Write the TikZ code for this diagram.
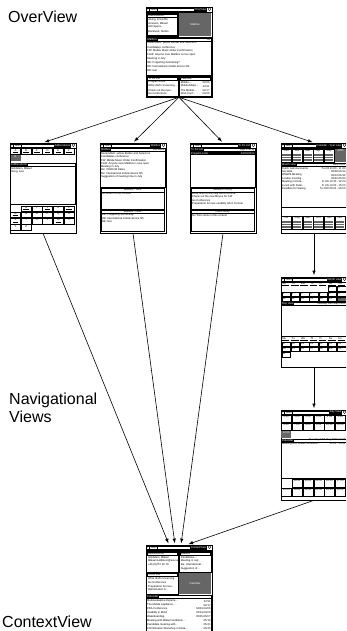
\documentclass[tikz,border=0pt]{standalone}
\usepackage{fontspec}
\setmainfont{Liberation Sans}
\usetikzlibrary{arrows, positioning, calc}

\tikzset{
  shot/.style={draw, line width=0.6pt, fill=white, minimum width=66pt, minimum height=90pt, inner sep=0pt},
  ui/.style={draw, line width=0.3pt},
  tiny/.style={font=\fontsize{2.7}{3}\selectfont, inner sep=0pt, anchor=west},
  tinyr/.style={tiny, anchor=east},
  tinyc/.style={tiny, anchor=center},
  blk/.style={tiny, fill=black, text=white, inner xsep=0.7pt, minimum height=3pt},
  grey/.style={fill=black!60},
  biglabel/.style={font=\fontsize{16}{17.5}\selectfont, align=left, inner sep=0pt, anchor=north west},
  link/.style={->, >=latex, line width=0.6pt, shorten >=1.5pt},
}

% top bar of a screen: prefix, title
\newcommand{\pdabar}[2]{%
  \draw[ui] (0,5) -- (66,5);
  \draw[ui] (0.8,1) rectangle (3.2,4);
  \node[tinyc] (#1-help) at (2,2.5) {?};
  \draw[ui] (3.8,1) rectangle (11.5,4);
  \node[tiny] (#1-start) at (5,2.5) {Start};
  \draw[ui] (11.5,1) -- (61.5,1) (11.5,4) -- (61.5,4);
  \node[blk, anchor=east] (#1-title) at (61.5,2.5) {#2};
  \draw[ui] (63.8,2.5) circle (1.5pt);
}
% column of text lines: prefix, x, first y, step, items
\newcommand{\pdalines}[5]{%
  \foreach \txt [count=\i] in {#5}
    \node[tiny] (#1-\i) at (#2,{#3+#4*(\i-1)}) {\txt};
}
\newcommand{\pdadates}[5]{%
  \foreach \txt [count=\i] in {#5}
    \node[tinyr] (#1-\i) at (#2,{#3+#4*(\i-1)}) {\txt};
}
% small month box of the year view: name, x, y, month
\newcommand{\minimonth}[4]{%
  \draw[ui] ({#2},{#3}) rectangle ({#2+9.8},{#3+13});
  \node[tinyc] (#1) at ({#2+4.9},{#3+2}) {#4};
  \foreach \row in {0,...,4}
    \draw[line width=0.2pt, black!60] ({#2+0.8},{#3+5+1.7*\row}) -- ({#2+9},{#3+5+1.7*\row});
}

\begin{document}
\begin{tikzpicture}[x=1pt, y=-1pt]
\useasboundingbox (0,0) rectangle (346,631);
\clip (0,0) rectangle (346,631);

% labels
\node[biglabel] (lblover) at (8,11) {OverView};
\node[biglabel] (lblnav) at (9,393) {Navigational\\Views};
\node[biglabel] (lblctx) at (2,616) {ContextView};

% screens
\node[shot] (ovw) at (179,52) {};
\node[shot] (adr) at (43,188) {};
\node[shot] (mbx) at (133,188) {};
\node[shot] (tdo) at (223,188) {};
\node[shot] (yr) at (314,188) {};
\node[shot] (mon) at (314,322) {};
\node[shot] (day) at (314,455) {};
\node[shot] (ctx) at (179,590) {};

% overview screen
\begin{scope}[shift={(ovw.north west)}]
  \pdabar{ov}{OverView}
  \draw[ui] (1,6.5) rectangle (32,29.5);
  \draw[ui] (1.6,7.1) rectangle (31.4,10.3);
  \node[tiny] (ov-adr) at (2.4,8.7) {Addressbook};
  \draw[ui] (1.6,10.3) rectangle (31.4,28.9);
  \pdalines{ov-a}{2.4}{12.8}{3.9}{{Alving, Kristoffer},{Arnesen, Mikael},Asli Sparre,{Backlund, Stefan}}
  \fill[grey] (33.5,6.5) rectangle (65,29.5);
  \node[tinyc, text=white] (ov-mbtn) at (49.25,18) {Mailbox};
  \draw[ui] (0.6,30.5) rectangle (65.4,68);
  \draw[ui] (1,31) rectangle (65,34.2);
  \node[blk, anchor=west] (ov-mail) at (1,32.6) {Mailbox};
  \node[tinyr] (ov-all) at (64.5,32.6) {All};
  \pdalines{ov-m}{1.5}{36.5}{3.9}{Bookm/Bell: yellow Border and Selectors,Candidates conference,FW: Mobile Music Order Confirmation,Field: Anyone sure Mailbox is now open,Meeting in July,RE: Forgetting Something?,RE: International mobile device 5th,RE: test}
  \draw[ui] (1,69.5) rectangle (32,89.3);
  \draw[ui] (1.6,70.1) rectangle (31.4,73.3);
  \node[tiny] (ov-todo) at (2.4,71.7) {To Do List};
  \pdalines{ov-t}{2.4}{75.6}{3.9}{Program Lotte,Write draft concerning\ldots,Check out the new\ldots,Go Conference}
  \draw[ui] (33.5,69.5) rectangle (65,89.3);
  \draw[ui] (34.1,70.1) rectangle (64.4,73.3);
  \node[tiny] (ov-cal) at (34.9,71.7) {Calendar};
  \pdalines{ov-c}{34.9}{75.6}{3.9}{Mobile\ldots,MobileAdapt\ldots,The Mobile\ldots,PDA Conf\ldots}
  \pdadates{ov-d}{64}{75.6}{3.9}{02/06,02/11,02/17,04/06}
\end{scope}

% addressbook screen
\begin{scope}[shift={(adr.north west)}]
  \pdabar{ad}{Addressbook}
  \foreach \ltr [count=\i] in {A,B,C,D,E,F} {
    \draw[ui] ({0.8+10.7*(\i-1)},5.8) rectangle ++(10,5.2);
    \node[tinyc] (ad-tab\i) at ({5.8+10.7*(\i-1)},7.4) {\ltr};
    \draw[line width=0.6pt] ({3+10.7*(\i-1)},9.8) -- ++(5.6,0);
  }
  \fill[grey] (0.8,12.5) rectangle (10.8,18);
  \node[tinyc, text=white] (ad-g) at (5.8,14.2) {G};
  \draw[ui] (0.6,20.5) rectangle (65.4,23.6);
  \node[blk, anchor=west] (ad-head) at (0.6,22) {Addressbook};
  \draw[ui] (0.6,23.6) rectangle (65.4,61);
  \pdalines{ad-l}{1.2}{26}{3.3}{{Goldstein, Mikael},{Hong, Lise}}
  \foreach \ltr [count=\i from 1, evaluate=\i as \col using {int(mod(\i,6))}, evaluate=\i as \row using {int(\i/6)}] in {H,I,J,K,L,M,N,O,P,Q,R,S,T,U,V,W,X,Y,Z} {
    \draw[ui] ({0.8+10.7*\col},{63+6.3*\row}) rectangle ++(10,5.6);
    \node[tinyc] (ad-key\i) at ({5.8+10.7*\col},{64.7+6.3*\row}) {\ltr};
  }
  \foreach \p [evaluate=\p as \col using {int(mod(\p,6))}, evaluate=\p as \row using {int(\p/6)}] in {1,3,5,6,12,16}
    \draw[line width=0.8pt] ({3+10.7*\col},{66.8+6.3*\row}) -- ++(5.6,0);
\end{scope}

% mailbox screen
\begin{scope}[shift={(mbx.north west)}]
  \pdabar{mb}{Mailbox}
  \draw[ui] (0.6,5.6) rectangle (65.4,8.8);
  \node[blk, anchor=west] (mb-head) at (0.6,7.2) {Mailbox};
  \node[tinyr] (mb-recv) at (65,7.2) {Received};
  \draw[ui] (0.6,8.8) rectangle (65.4,44);
  \pdalines{mb-l}{1.2}{10.8}{3.3}{Bookm/Bell: yellow Border and Selectors,Candidates conference,FW: Mobile Music Order Confirmation,Field: Anyone sure Mailbox is now open,Meeting in July,Re: CDWorld Dates,Re: International mobile device 5th,Suggestion of meeting time in July}
  \draw[ui] (1.5,45.5) rectangle (64.5,66);
  \node[tinyc] (mb-sent) at (33,47.3) {Mailbox - Sent};
  \draw[ui] (1.5,49) -- (64.5,49);
  \node[tiny] (mb-none) at (2.2,51) {No letters in this context};
  \draw[ui] (1.5,67) rectangle (64.5,88.5);
  \node[tinyc] (mb-draft) at (33,68.8) {Mailbox - Draft};
  \draw[ui] (1.5,70.5) -- (64.5,70.5);
  \pdalines{mb-d}{2.2}{72.5}{3.3}{RE: Forgetting Something?,RE: International mobile device 5th,RE: test}
\end{scope}

% to do screen
\begin{scope}[shift={(tdo.north west)}]
  \pdabar{td}{To Do List}
  \draw[ui] (0.6,5.6) rectangle (65.4,8.8);
  \node[blk, anchor=west] (td-head) at (0.6,7.2) {To Do List};
  \node[tinyr] (td-high) at (65,7.2) {High Priority};
  \fill (0.6,9.2) rectangle (65.4,12.2);
  \node[tiny, text=white] (td-sel) at (1.2,10.7) {Program Lotte};
  \node[tinyr, text=white] (td-seld) at (65,10.7) {03/04/2000};
  \draw[ui] (0.6,8.8) rectangle (65.4,44);
  \draw[ui] (1.5,45.5) rectangle (64.5,66);
  \node[tinyc] (td-med) at (33,47.3) {Medium Priority};
  \draw[ui] (1.5,49) -- (64.5,49);
  \pdalines{td-m}{2.2}{51}{3.3}{Write draft concerning the ECOnline,Check out the new Mouse for CM,Go Conference,Preparation for new usability lab in Toronto}
  \draw[ui] (1.5,67) rectangle (64.5,88.5);
  \node[tinyc] (td-low) at (33,68.8) {Low Priority};
  \draw[ui] (1.5,70.5) -- (64.5,70.5);
  \node[tiny] (td-none) at (2.2,72.5) {No ToDo items in this context};
\end{scope}

% year screen
\begin{scope}[shift={(yr.north west)}]
  \pdabar{yv}{Calendar - Year view}
  \foreach \m [count=\i] in {Jan,Feb,Mar,Apr,May}
    \minimonth{yv-m\i}{0.8+10.7*(\i-1)}{6}{\m};
  \fill[grey] (54.5,6) rectangle (65.4,19);
  \node[tinyc, text=white] (yv-year) at (60,8) {2000};
  \draw[ui] (0.6,20.5) rectangle (65.4,23.6);
  \node[blk, anchor=west] (yv-head) at (0.6,22) {Month view};
  \node[tinyr] (yv-june) at (65,22) {June 2000};
  \draw[ui] (0.6,23.6) rectangle (65.4,64);
  \pdalines{yv-e}{1.2}{26}{3.3}{Dutch national events,Socialite,WWW8 Meeting,London meeting,Meeting in Kista\ldots,Lunch with Peter\ldots,Deadline for Sailing}
  \pdadates{yv-t}{65}{26}{3.3}{Tu 2/4 11:00 - 11:00,06/08-06/14,06/10-06/12,06/22-06/24,Fr 2/6 10:30 - 12:00,Fr 2/6 14:00 - 15:00,Tu 20/6 09:00 - 09:00}
  \foreach \m [count=\i] in {Jul,Aug,Sep,Oct,Nov,Dec}
    \minimonth{yv-n\i}{0.8+10.7*(\i-1)}{73}{\m};
\end{scope}

% month screen
\begin{scope}[shift={(mon.north west)}]
  \pdabar{mo}{Month view}
  \foreach \d [count=\i] in {Mo,Tu,We,Th,Fr,Sa,Su} {
    \node[tiny] (mo-w\i) at ({1.5+9.3*(\i-1)},7.2) {\d};
    \draw[ui] ({1+9.3*(\i-1)},8.8) -- ++(7.5,0);
    \node[tiny] (mo-v\i) at ({1.5+9.3*(\i-1)},62) {\d};
    \draw[ui] ({1+9.3*(\i-1)},63.6) -- ++(7.5,0);
  }
  \fill[grey] ({1+9.3*6},{9.8+5.2*2}) rectangle ++(8.4,4.6);
  \foreach \n [evaluate=\n as \col using {int(mod(\n+4,7))}, evaluate=\n as \row using {int((\n+4)/7)}] in {1,...,16} {
    \draw[ui] ({1+9.3*\col},{9.8+5.2*\row}) rectangle ++(8.4,4.6);
    \node[tiny] (mo-d\n) at ({1.6+9.3*\col},{11.2+5.2*\row}) {\n};
  }
  \draw[ui] (0.6,25.8) rectangle (65.4,28.9);
  \node[blk, anchor=west] (mo-head) at (0.6,27.3) {Day View};
  \node[tinyr] (mo-date) at (65,27.3) {Tuesday 16th May 2000};
  \draw[ui] (0.6,28.9) rectangle (65.4,59);
  \foreach \n [evaluate=\n as \col using {int(mod(\n-17,7))}, evaluate=\n as \row using {int((\n-17)/7)}] in {17,...,31} {
    \draw[ui] ({1+9.3*\col},{65+5.2*\row}) rectangle ++(8.4,4.6);
    \node[tiny] (mo-d\n) at ({1.6+9.3*\col},{66.4+5.2*\row}) {\n};
  }
\end{scope}

% day screen
\begin{scope}[shift={(day.north west)}]
  \pdabar{dy}{Day View}
  \foreach \h [count=\i from 0, evaluate=\i as \col using {int(mod(\i,6))}, evaluate=\i as \row using {int(\i/6)}] in {0:00,1:00,2:00,3:00,4:00,5:00,6:00,7:00,8:00,9:00,10:00,11:00} {
    \draw[ui] ({0.6+10.8*\col},{5.8+7.5*\row}) rectangle ++(10,6.8);
    \node[tinyc] (dy-h\i) at ({5.6+10.8*\col},{7.3+7.5*\row}) {\h};
  }
  \fill[grey] (0.6,21.3) rectangle (10.6,28.3);
  \node[tinyc, text=white] (dy-noon) at (5.6,22.8) {12:00};
  \draw[ui] (0.6,29) rectangle (65.4,32.1);
  \node[blk, anchor=west] (dy-head) at (0.6,30.5) {Calendar};
  \node[tinyr] (dy-date) at (65,30.5) {Tuesday 16th May 2000 12:00};
  \draw[ui] (0.6,32.1) rectangle (65.4,68.5);
  \node[tiny] (dy-ev) at (1.2,34.3) {Meeting with Mikael Goldstein\ldots};
  \node[tinyr] (dy-evt) at (65,34.3) {13:00 - 13:30};
  \foreach \h [count=\i from 1] in {13:00,14:00,15:00,16:00,17:00} {
    \draw[ui] ({0.6+10.8*\i},69.5) rectangle ++(10,7.8);
    \node[tinyc] (dy-p\i) at ({5.6+10.8*\i},71) {\h};
  }
  \foreach \h [count=\i from 0] in {18:00,19:00,20:00,21:00,22:00,23:00} {
    \draw[ui] ({0.6+10.8*\i},78.5) rectangle ++(10,8);
    \node[tinyc] (dy-q\i) at ({5.6+10.8*\i},80) {\h};
  }
\end{scope}

% context screen
\begin{scope}[shift={(ctx.north west)}]
  \pdabar{cx}{ContextView}
  \draw[ui] (0.8,6.5) rectangle (32,27);
  \draw[ui] (1.4,7.1) rectangle (31.4,10.3);
  \node[tiny] (cx-adr) at (2.2,8.7) {Addressbook};
  \pdalines{cx-a}{2.2}{12.5}{3.8}{{Goldstein, Mikael},Mikael.Goldstein@era.se,+46 (8)757 36 79}
  \draw[ui] (33.5,6.5) rectangle (65.2,27);
  \draw[ui] (34.1,7.1) rectangle (64.6,10.3);
  \node[tiny] (cx-mail) at (34.9,8.7) {Mailbox};
  \pdalines{cx-m}{34.9}{12.5}{3.8}{Candidates\ldots,Meeting in July,Re: International\ldots,Suggestion of\ldots}
  \draw[ui] (0.8,28) rectangle (32,49);
  \draw[ui] (1.4,28.6) rectangle (31.4,31.8);
  \node[tiny] (cx-todo) at (2.2,30.2) {To Do List};
  \pdalines{cx-t}{2.2}{34}{3.8}{Write draft concerning,Go Conference,Preparation for new\ldots,Optimization in\ldots}
  \fill[grey] (33.5,28) rectangle (65.2,49);
  \node[tinyc, text=white] (cx-cbtn) at (49.35,38.5) {Calendar};
  \draw[ui] (0.6,50.5) rectangle (65.4,90);
  \draw[ui] (0.6,50.5) rectangle (65.4,53.6);
  \node[blk, anchor=west] (cx-cal) at (0.6,52) {Calendar};
  \pdalines{cx-c}{1.2}{56.5}{3.9}{MobileAdaptive Experie\ldots,The Mobile Appliance\ldots,PDA Conference,Usability in Mind,Wakeboarding,Meeting with Mikael Goldstein\ldots,Candidate meeting with\ldots,CHI Wireless Workshop in Kista\ldots}
  \pdadates{cx-d}{65}{56.5}{3.9}{02/11,02/17,04/03-04/06,04/14-04/15,05/05-05/07,05/16,05/21,05/23}
\end{scope}

% navigation links
\draw[link] (ovw.south) -- (adr.north);
\draw[link] (ovw.south) -- (mbx.north);
\draw[link] (ovw.south) -- (tdo.north);
\draw[link] (ovw.south) -- (yr.north);
\draw[link] (yr.south) -- (mon.north);
\draw[link] (mon.south) -- (day.north);
\draw[link] (adr.south) -- ([xshift=-10pt]ctx.north);
\draw[link] (mbx.south) -- ([xshift=-4pt]ctx.north);
\draw[link] (tdo.south) -- ([xshift=2pt]ctx.north);
\draw[link] (day.south) -- ([xshift=8pt]ctx.north);
\end{tikzpicture}
\end{document}
